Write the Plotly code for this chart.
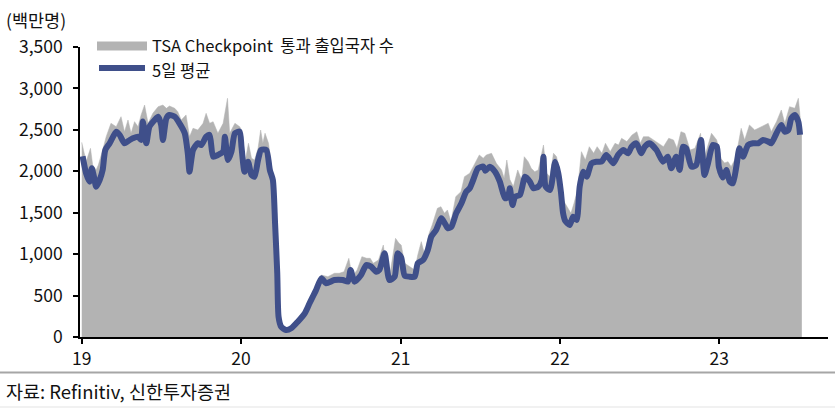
import plotly.graph_objects as go

# ---------------- data ----------------
avg_dates = [
    "2019-01-03","2019-01-11","2019-01-19","2019-01-24","2019-01-29","2019-02-03","2019-02-11","2019-02-18",
    "2019-02-24","2019-03-06","2019-03-21","2019-03-29","2019-04-09","2019-04-21","2019-04-28","2019-05-10",
    "2019-05-17","2019-05-21","2019-05-29","2019-06-05","2019-06-17","2019-06-25","2019-07-02","2019-07-06",
    "2019-07-14","2019-07-21","2019-08-02","2019-08-13","2019-08-25","2019-09-01","2019-09-05","2019-09-13",
    "2019-09-24","2019-10-02","2019-10-13","2019-10-21","2019-10-29","2019-11-09","2019-11-21","2019-11-25",
    "2019-12-02","2019-12-10","2019-12-18","2019-12-29",
    "2020-01-02","2020-01-09","2020-01-17","2020-01-25","2020-02-01","2020-02-09","2020-02-16","2020-02-28",
    "2020-03-07","2020-03-14","2020-03-19","2020-03-24","2020-03-27","2020-04-02","2020-04-13","2020-04-25",
    "2020-05-10","2020-05-26","2020-06-06","2020-06-21","2020-07-03","2020-07-14","2020-08-02","2020-08-21",
    "2020-09-02","2020-09-08","2020-09-17","2020-10-02","2020-10-14","2020-10-25","2020-11-06","2020-11-13",
    "2020-11-25","2020-12-06","2020-12-18","2020-12-25",
    "2021-01-02","2021-01-10","2021-01-21","2021-02-02","2021-02-09","2021-02-21","2021-03-04","2021-03-12",
    "2021-03-23","2021-04-04","2021-04-12","2021-04-19","2021-04-27","2021-05-08","2021-05-20","2021-05-31",
    "2021-06-08","2021-06-16","2021-06-27","2021-07-09","2021-07-14","2021-07-24","2021-08-05","2021-08-16",
    "2021-08-28","2021-09-04","2021-09-08","2021-09-14","2021-09-20","2021-10-01","2021-10-13","2021-10-24",
    "2021-11-01","2021-11-12","2021-11-20","2021-11-24","2021-11-29","2021-12-09","2021-12-21","2021-12-28",
    "2022-01-03","2022-01-08","2022-01-13","2022-01-23","2022-01-31","2022-02-08","2022-02-15","2022-02-23",
    "2022-03-03","2022-03-14","2022-03-25","2022-04-06","2022-04-17","2022-05-03","2022-05-14","2022-05-26",
    "2022-06-06","2022-06-14","2022-06-25","2022-07-06","2022-07-14","2022-07-25","2022-08-10","2022-08-25",
    "2022-09-05","2022-09-13","2022-09-24","2022-10-02","2022-10-10","2022-10-17","2022-10-29","2022-11-09",
    "2022-11-20","2022-11-28","2022-12-06","2022-12-17","2022-12-26","2022-12-31",
    "2023-01-09","2023-01-17","2023-01-25","2023-02-01","2023-02-09","2023-02-16","2023-02-24","2023-03-08",
    "2023-03-19","2023-03-31","2023-04-11","2023-04-23","2023-04-30","2023-05-12","2023-05-23","2023-05-31",
    "2023-06-08","2023-06-15","2023-06-23","2023-07-01","2023-07-05",
]
avg_values = [
    2180,1976,1875,2036,1935,1814,1895,2016,
    2257,2338,2478,2438,2338,2378,2398,2418,
    2378,2600,2338,2538,2619,2659,2559,2378,
    2640,2680,2659,2579,2459,2217,1995,2257,
    2338,2317,2418,2438,2176,2197,2237,2418,
    2136,2237,2459,2478,
    2297,1995,2116,1955,1935,2136,2257,2257,
    2016,1895,1372,769,245,124,84,105,
    185,286,407,567,708,648,688,688,
    668,809,668,748,869,849,788,809,
    1010,688,728,1010,
    960,740,728,728,890,929,1050,1211,
    1291,1432,1372,1312,1331,1493,1614,1754,
    1795,1895,2036,2056,2007,2056,1995,1875,
    1674,1694,1795,1593,1694,1714,1935,1875,
    1795,1815,1895,2176,1815,1774,2116,1976,
    1750,1493,1400,1352,1452,1412,1815,1995,
    1935,2096,2116,2116,2197,2096,2197,2257,
    2217,2297,2338,2217,2297,2338,2257,2116,
    2176,2036,2176,2016,2297,2277,2056,2076,
    2378,1955,2096,2317,2300,2050,
    1925,2016,1875,1855,2056,2277,2176,2317,
    2338,2338,2378,2358,2338,2459,2559,2478,
    2498,2640,2680,2599,2440,
]

daily_dates = [
    "2019-01-01","2019-01-11","2019-01-21","2019-01-26","2019-02-03","2019-02-08","2019-02-18","2019-02-26",
    "2019-03-09","2019-03-21","2019-04-01","2019-04-09","2019-04-17","2019-04-24","2019-05-02","2019-05-10",
    "2019-05-17","2019-05-25","2019-06-02","2019-06-13","2019-06-25","2019-07-06","2019-07-14","2019-07-21",
    "2019-08-02","2019-08-09","2019-08-17","2019-08-28","2019-09-05","2019-09-13","2019-09-24","2019-10-06",
    "2019-10-13","2019-10-21","2019-10-29","2019-11-09","2019-11-21","2019-12-01","2019-12-06","2019-12-18",
    "2019-12-29",
    "2020-01-02","2020-01-09","2020-01-18","2020-01-25","2020-02-01","2020-02-09","2020-02-15","2020-02-20",
    "2020-02-25","2020-03-04","2020-03-10","2020-03-14","2020-03-19","2020-03-24","2020-03-27","2020-04-02",
    "2020-04-13","2020-04-25","2020-05-10","2020-05-26","2020-06-06","2020-06-21","2020-07-03","2020-07-18",
    "2020-08-02","2020-08-13","2020-08-24","2020-09-04","2020-09-12","2020-09-23","2020-10-04","2020-10-15",
    "2020-10-23","2020-10-30","2020-11-11","2020-11-22","2020-11-30","2020-12-07","2020-12-20","2020-12-28",
    "2021-01-02","2021-01-10","2021-01-21","2021-02-02","2021-02-09","2021-02-17","2021-02-24","2021-03-07",
    "2021-03-14","2021-03-26","2021-04-03","2021-04-11","2021-04-18","2021-04-26","2021-05-07","2021-05-19",
    "2021-05-27","2021-06-08","2021-06-16","2021-06-30","2021-07-09","2021-07-16","2021-07-28","2021-08-08",
    "2021-08-20","2021-08-26","2021-09-01","2021-09-08","2021-09-16","2021-09-26","2021-10-05","2021-10-11",
    "2021-10-20","2021-10-27","2021-11-04","2021-11-12","2021-11-24","2021-12-01","2021-12-09","2021-12-17",
    "2021-12-24",
    "2022-01-01","2022-01-08","2022-01-19","2022-01-26","2022-02-02","2022-02-10","2022-02-19","2022-02-28",
    "2022-03-09","2022-03-19","2022-03-27","2022-04-07","2022-04-15","2022-04-26","2022-05-07","2022-05-15",
    "2022-05-22","2022-06-03","2022-06-15","2022-06-26","2022-07-04","2022-07-11","2022-07-23","2022-08-03",
    "2022-08-15","2022-08-26","2022-09-07","2022-09-18","2022-09-26","2022-10-05","2022-10-14","2022-10-26",
    "2022-11-06","2022-11-19","2022-11-25","2022-12-03","2022-12-14","2022-12-26",
    "2023-01-05","2023-01-13","2023-01-21","2023-01-28","2023-02-05","2023-02-13","2023-02-20","2023-02-28",
    "2023-03-11","2023-03-23","2023-03-31","2023-04-11","2023-04-23","2023-04-30","2023-05-12","2023-05-23",
    "2023-05-31","2023-06-11","2023-06-23","2023-07-01","2023-07-06","2023-07-09",
]
daily_values = [
    2350,2116,2277,2076,2016,2076,2257,2418,
    2579,2538,2659,2478,2619,2459,2599,2538,
    2680,2800,2579,2700,2780,2800,2760,2788,
    2760,2720,2619,2680,2418,2519,2498,2579,
    2700,2579,2599,2459,2579,2881,2459,2579,
    2538,
    2498,2076,2338,2157,2136,2277,2498,2338,
    2459,2338,2096,1935,1400,780,260,130,
    95,120,200,300,430,590,748,728,
    769,769,788,950,728,809,970,950,
    950,890,929,1110,788,748,1191,1131,
    1110,890,849,809,990,1151,1010,1251,
    1352,1553,1573,1493,1533,1392,1694,1754,
    1935,1976,2056,2197,2157,2197,2217,2096,
    2016,1915,2136,1900,1815,2016,1895,2176,
    2116,2036,1995,2016,2317,1976,1935,2217,
    2176,
    1976,1654,1550,1493,1614,1774,2237,2136,
    2297,2217,2297,2217,2338,2237,2338,2317,
    2398,2358,2438,2478,2338,2418,2418,2378,
    2338,2297,2398,2378,2277,2478,2459,2257,
    2277,2459,2116,2257,2459,2378,
    2150,2100,2116,2056,2136,2317,2519,2378,
    2559,2498,2519,2538,2579,2478,2599,2740,
    2579,2780,2760,2881,2579,2450,
]

year_ticks = ["2019-01-01", "2020-01-01", "2021-01-01", "2022-01-01", "2023-01-01"]
year_labels = ["19", "20", "21", "22", "23"]
y_ticks = [0, 500, 1000, 1500, 2000, 2500, 3000, 3500]

series_daily = "TSA Checkpoint  통과 출입국자 수"
series_avg = "5일 평균"
unit_label = "(백만명)"
source_label = "자료: Refinitiv, 신한투자증권"

# ---------------- figure ----------------
FONT = "Noto Sans CJK KR, sans-serif"
W, H = 835, 408
L, R, T, B = 80, 7, 47, 71
PW, PH = W - L - R, H - T - B
BLUE = "#3f4f8a"
GRAY = "#b3b3b3"

def px(x):
    return (x - L) / PW

def py(y):
    return (H - B - y) / PH

fig = go.Figure()
fig.add_trace(go.Scatter(
    x=daily_dates, y=daily_values, mode="lines", fill="tozeroy",
    line=dict(color=GRAY, width=0.5), fillcolor=GRAY,
    name=series_daily, showlegend=False, hoverinfo="skip",
))
fig.add_trace(go.Scatter(
    x=avg_dates, y=avg_values, mode="lines",
    line=dict(color=BLUE, width=6, shape="spline", smoothing=0.6),
    name=series_avg, showlegend=False,
))

shapes = [
    dict(type="rect", xref="paper", yref="paper", x0=px(97), x1=px(147), y0=py(50.5), y1=py(41.5),
         fillcolor=GRAY, line=dict(width=0)),
    dict(type="line", xref="paper", yref="paper", x0=px(99), x1=px(145), y0=py(68), y1=py(68),
         line=dict(color=BLUE, width=6)),
    dict(type="line", xref="paper", yref="paper", x0=px(0), x1=px(835), y0=py(372.5), y1=py(372.5),
         line=dict(color="#a6a6a6", width=2)),
    dict(type="line", xref="paper", yref="paper", x0=px(0), x1=px(835), y0=py(407), y1=py(407),
         line=dict(color="#e3e3e3", width=1)),
]

annotations = [
    dict(text=series_daily, xref="paper", yref="paper", x=px(151), y=py(44.5),
         xanchor="left", yanchor="middle", showarrow=False, borderpad=0,
         font=dict(size=16.5, color="#111", family=FONT)),
    dict(text=series_avg, xref="paper", yref="paper", x=px(151), y=py(69.5),
         xanchor="left", yanchor="middle", showarrow=False, borderpad=0,
         font=dict(size=16.5, color="#111", family=FONT)),
    dict(text=unit_label, xref="paper", yref="paper", x=px(4), y=py(20), xanchor="left",
         yanchor="middle", showarrow=False, font=dict(size=17.5, color="#111", family=FONT)),
    dict(text=source_label, xref="paper", yref="paper", x=px(4), y=py(391), xanchor="left",
         yanchor="middle", showarrow=False, font=dict(size=18.5, color="#111", family=FONT)),
]

fig.update_layout(
    width=W, height=H, margin=dict(l=L, r=R, t=T, b=B),
    paper_bgcolor="white", plot_bgcolor="white",
    font=dict(family=FONT, size=16, color="#111"),
    shapes=shapes, annotations=annotations, showlegend=False,
    xaxis=dict(
        type="date", range=["2018-12-28", "2023-09-07"],
        tickmode="array", tickvals=year_ticks, ticktext=year_labels,
        ticks="outside", ticklen=5, tickwidth=1.5, tickcolor="#000",
        showline=True, linecolor="#000", linewidth=1.5,
        showgrid=False, zeroline=False, tickfont=dict(size=17.5),
    ),
    yaxis=dict(
        range=[0, 3500], tickmode="array", tickvals=y_ticks, tickformat=",",
        ticks="outside", ticklen=5, tickwidth=1.5, tickcolor="#000",
        showline=True, linecolor="#000", linewidth=1.5,
        showgrid=False, zeroline=False, tickfont=dict(size=17.5),
        ticklabelstandoff=7,
    ),
)

fig.write_html("out.html")
